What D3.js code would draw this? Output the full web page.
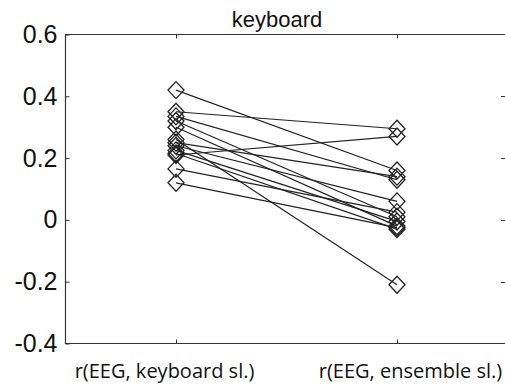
<!DOCTYPE html>
<html>
<head>
<meta charset="utf-8">
<script src="https://cdn.jsdelivr.net/npm/d3@7"></script>
<style>
  html, body { margin: 0; padding: 0; background: #fff; overflow: hidden; }
  svg { display: block; }
</style>
</head>
<body>
<svg id="chart" width="505" height="385"></svg>
<script>
// ---- data ----
const categories = ["r(EEG, keyboard sl.)", "r(EEG, ensemble sl.)"];
const keyboardCorr = [0.42, 0.35, 0.335, 0.32, 0.30, 0.26, 0.25, 0.24, 0.225, 0.215, 0.21, 0.165, 0.12];
const ensembleCorr = [0.16, 0.295, 0.13, 0.01, -0.02, -0.21, 0.14, 0.06, -0.005, -0.03, 0.27, 0.025, -0.025];
const yTicks = [-0.4, -0.2, 0, 0.2, 0.4, 0.6];
const yTickLabels = ["-0.4", "-0.2", "0", "0.2", "0.4", "0.6"];
const title = "keyboard";

(function () {
// ---- layout ----
const svg = d3.select("#chart");
const mLeft = 65.5, mRight = 507.5, mTop = 34.5, mBottom = 343.5;
const ink = "#333";

const x = d3.scaleLinear().domain([0.5, 2.5]).range([mLeft, mRight]);
const y = d3.scaleLinear().domain([-0.4, 0.6]).range([mBottom, mTop]);

// frame: left, top, bottom edges (right edge lies beyond the canvas)
const frame = [
  [mLeft, mTop, mLeft, mBottom],
  [mLeft, mTop, mRight, mTop],
  [mLeft, mBottom, mRight, mBottom]
];
svg.append("g").selectAll("line").data(frame).enter().append("line")
  .attr("x1", d => d[0]).attr("y1", d => d[1]).attr("x2", d => d[2]).attr("y2", d => d[3])
  .attr("stroke", ink).attr("stroke-width", 1.2).attr("stroke-linecap", "square");

// left axis
const yAxis = d3.axisLeft(y).tickValues(yTicks)
  .tickFormat((d, i) => yTickLabels[i]).tickSizeInner(-4).tickSizeOuter(0).tickPadding(8);
const gy = svg.append("g").attr("transform", `translate(${mLeft},0)`).call(yAxis);
gy.select(".domain").remove();
gy.selectAll(".tick line").attr("stroke", ink);
gy.selectAll(".tick text").attr("font-family", "'Liberation Sans', Arial, sans-serif")
  .attr("font-size", 25).attr("fill", "#111").attr("x", -8);

// right-side tick marks (inward)
const gyr = svg.append("g").selectAll("line").data(yTicks.filter(t => t > -0.4 && t < 0.6)).enter().append("line")
  .attr("x1", 501).attr("x2", 505)
  .attr("y1", d => Math.round(y(d)) + 0.5).attr("y2", d => Math.round(y(d)) + 0.5)
  .attr("stroke", ink);

// bottom axis
const xAxis = d3.axisBottom(x).tickValues([1, 2])
  .tickFormat((d, i) => categories[i]).tickSizeInner(-4).tickSizeOuter(0).tickPadding(20);
const gx = svg.append("g").attr("transform", `translate(0,${mBottom})`).call(xAxis);
gx.select(".domain").remove();
gx.selectAll(".tick line").attr("stroke", ink);
gx.selectAll(".tick text").attr("font-family", "'Open Sans', sans-serif")
  .attr("font-size", 20).attr("fill", "#111")
  .attr("dx", (d, i) => i === 0 ? -12 : 13);

// top axis ticks
const xAxisT = d3.axisTop(x).tickValues([1, 2]).tickFormat("").tickSizeInner(-4).tickSizeOuter(0);
const gxt = svg.append("g").attr("transform", `translate(0,${mTop})`).call(xAxisT);
gxt.select(".domain").remove();
gxt.selectAll(".tick line").attr("stroke", ink);

// title
svg.append("text")
  .attr("x", 277).attr("y", 27)
  .attr("text-anchor", "middle")
  .attr("font-family", "'Liberation Sans', Arial, sans-serif")
  .attr("font-size", 22).attr("fill", "#111")
  .text(title);

// pairs
const pairs = keyboardCorr.map((v, i) => [v, ensembleCorr[i]]);
const g = svg.append("g");
g.selectAll("line.pair").data(pairs).enter().append("line")
  .attr("class", "pair")
  .attr("x1", x(1)).attr("x2", x(2))
  .attr("y1", d => y(d[0])).attr("y2", d => y(d[1]))
  .attr("stroke", "#222").attr("stroke-width", 1.2);

const diamond = (cx, cy) => {
  const w = 8, h = 8.5;
  return `M${cx},${cy - h}L${cx + w},${cy}L${cx},${cy + h}L${cx - w},${cy}Z`;
};
[1, 2].forEach(k => {
  g.selectAll(null).data(pairs).enter().append("path")
    .attr("d", d => diamond(x(k), y(d[k - 1])))
    .attr("fill", "none").attr("stroke", "#222").attr("stroke-width", 1.3);
});
})();
</script>
</body>
</html>
